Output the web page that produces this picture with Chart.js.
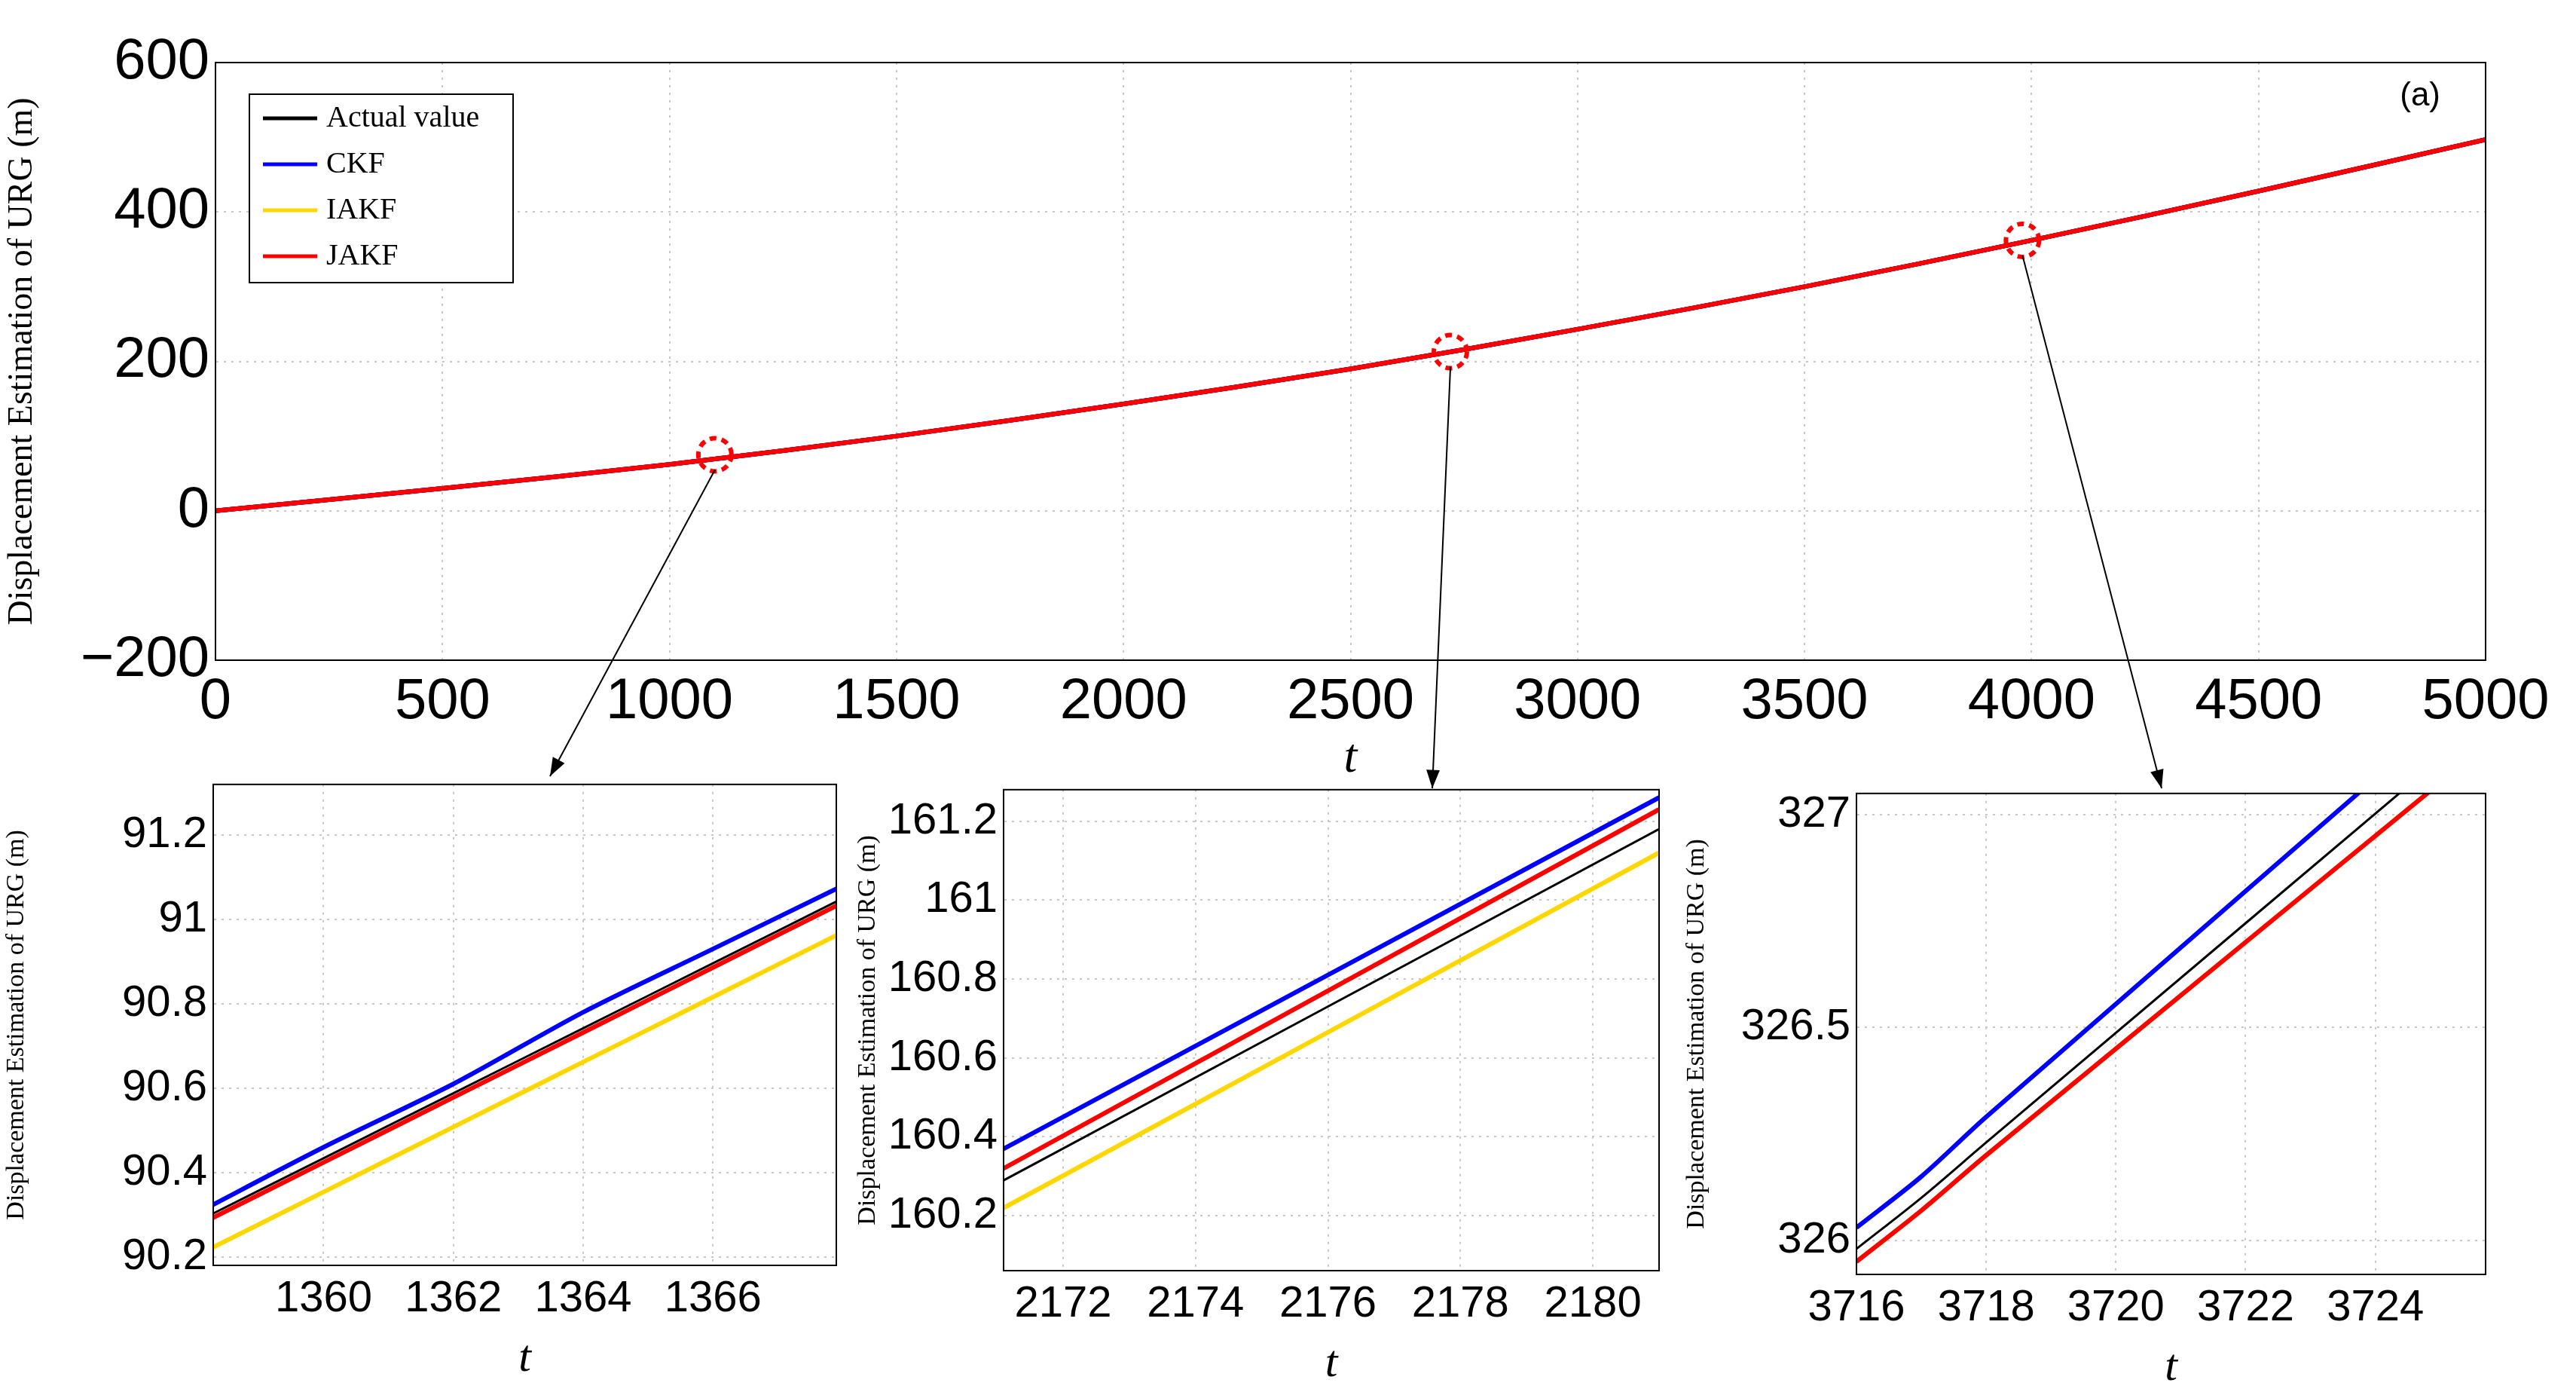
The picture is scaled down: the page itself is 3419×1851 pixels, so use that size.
<!DOCTYPE html>
<html><head><meta charset="utf-8">
<script src="https://cdn.jsdelivr.net/npm/chart.js@4/dist/chart.umd.min.js"></script>
<style>
body{margin:0;background:#fff;width:3419px;height:1851px;overflow:hidden;position:relative}
canvas{position:absolute}
</style></head><body>
<canvas id="main" width="3419" height="1046" style="left:0;top:0"></canvas>
<canvas id="in1" width="1130" height="841" style="left:0;top:998px"></canvas>
<canvas id="in2" width="1100" height="841" style="left:1130px;top:1005px"></canvas>
<canvas id="in3" width="1189" height="841" style="left:2230px;top:1010px"></canvas>
<canvas id="over" width="3419" height="1851" style="left:0;top:0;pointer-events:none"></canvas>
<script>
Chart.defaults.devicePixelRatio = 1;
Chart.defaults.animation = false;

const seriesNames = ['Actual value', 'CKF', 'IAKF', 'JAKF'];
const seriesColors = ['#000000', '#0000ff', '#ffd700', '#ff0000'];

// main plot
const mainT = [0, 500, 1000, 1500, 2000, 2500, 3000, 3500, 4000, 4500, 5000];
const mainY = [0, 30, 62, 100, 143, 190, 243, 300, 362, 428, 497];
const zoomT = [1100, 2720, 3980];
const zoomY = [75, 213, 362];

// inset 1
const in1T = [1358, 1360, 1362, 1364, 1366, 1368];
const in1Actual = [90.28, 90.434, 90.588, 90.742, 90.896, 91.05];
const in1CKF = [90.30, 90.46, 90.61, 90.78, 90.93, 91.08];
const in1IAKF = [90.20, 90.354, 90.508, 90.662, 90.816, 90.97];
const in1JAKF = [90.27, 90.424, 90.578, 90.732, 90.886, 91.04];
// inset 2
const in2T = [2171, 2181];
const in2Actual = [160.28, 161.18];
const in2CKF = [160.36, 161.26];
const in2IAKF = [160.21, 161.12];
const in2JAKF = [160.31, 161.23];
// inset 3
const in3T = [3716, 3717, 3718, 3726];
const in3Actual = [325.98, 326.1, 326.23, 327.26];
const in3CKF = [326.03, 326.15, 326.29, 327.35];
const in3IAKF = [325.95, 326.07, 326.2, 327.2];
const in3JAKF = [325.95, 326.07, 326.2, 327.2];

const sans = 'Liberation Sans, Arial, sans-serif';
const serif = 'Liberation Serif, Times New Roman, serif';

function pts(xs, ys) { return xs.map((x, i) => ({x: x, y: ys[i]})); }

function makeSets(xs, lists, widths) {
  // first dataset is drawn on top
  const order = [3, 1, 0, 2];
  return order.map(k => ({
    label: seriesNames[k], data: pts(xs, lists[k]), borderColor: seriesColors[k],
    borderWidth: widths[k], pointRadius: 0, tension: 0.3, fill: false
  }));
}

const grid = {color: '#c8c8c8', lineWidth: 2, drawTicks: false};

function axes(xmin, xmax, xstep, ymin, ymax, ystep, ywidth, xheight, tickSize, titleSize, tSize, dec) {
  return {
    x: {type: 'linear', min: xmin, max: xmax,
      afterBuildTicks: a => { a.ticks = []; for (let v = Math.ceil(xmin / xstep) * xstep; v <= xmax + 1e-9; v += xstep) a.ticks.push({value: v}); },
      afterFit: a => { a.height = xheight; },
      grid: grid, border: {color: '#000', width: 2, dash: [3, 7]},
      ticks: {color: '#000', font: {family: sans, size: tickSize}, padding: 10, maxRotation: 0, autoSkip: false,
        callback: v => String(v)},
      title: {display: true, text: 't', color: '#000', font: {family: serif, size: tSize, style: 'italic'}, padding: 0}},
    y: {min: ymin, max: ymax,
      afterBuildTicks: a => { a.ticks = []; for (let v = Math.ceil(ymin / ystep - 1e-9) * ystep; v <= ymax + 1e-9; v += ystep) a.ticks.push({value: +v.toFixed(4)}); },
      afterFit: a => { a.width = ywidth; },
      grid: grid, border: {color: '#000', width: 2, dash: [3, 7]},
      ticks: {color: '#000', font: {family: sans, size: tickSize}, padding: 8,
        callback: v => dec ? +v.toFixed(2) + '' : (v < 0 ? '\u2212' + (-v) : String(v))},
      title: {display: true, text: 'Displacement Estimation of URG (m)', color: '#000', font: {family: serif, size: titleSize}, padding: 2}}
  };
}

const frame = {
  id: 'frame',
  afterDraw(c) {
    const a = c.chartArea, g = c.ctx;
    g.save(); g.strokeStyle = '#000'; g.lineWidth = 2;
    g.strokeRect(a.left, a.top, a.right - a.left, a.bottom - a.top);
    g.restore();
  }
};

const mainDeco = {
  id: 'mainDeco',
  afterDraw(c) {
    const a = c.chartArea, g = c.ctx;
    g.save();
    const lx = a.left + 45, ly = a.top + 42, lw = 350, lh = 250;
    g.fillStyle = '#fff'; g.fillRect(lx, ly, lw, lh);
    g.strokeStyle = '#000'; g.lineWidth = 2; g.strokeRect(lx, ly, lw, lh);
    g.font = '40px ' + serif; g.textBaseline = 'middle';
    seriesNames.forEach((n, i) => {
      const yy = ly + 32 + i * 61;
      g.strokeStyle = seriesColors[i]; g.lineWidth = 5;
      g.beginPath(); g.moveTo(lx + 18, yy); g.lineTo(lx + 90, yy); g.stroke();
      g.fillStyle = '#000'; g.fillText(n, lx + 102, yy);
    });
    g.font = '44px ' + sans; g.textAlign = 'right';
    g.fillText('(a)', a.right - 60, a.top + 45);
    g.strokeStyle = '#ff0000'; g.lineWidth = 6; g.setLineDash([9, 7]);
    zoomT.forEach((t, i) => {
      g.beginPath();
      g.arc(c.scales.x.getPixelForValue(t), c.scales.y.getPixelForValue(zoomY[i]), 22, 0, Math.PI * 2);
      g.stroke();
    });
    g.restore();
  }
};

const mainChart = new Chart(document.getElementById('main'), {
  type: 'line',
  data: {datasets: makeSets(mainT, [mainY, mainY, mainY, mainY], [6, 6, 6, 6])},
  options: {responsive: false, plugins: {legend: {display: false}, tooltip: {enabled: false}},
    layout: {padding: {top: 83, right: 120, left: 0, bottom: 0}},
    scales: axes(0, 5000, 500, -200, 600, 200, 286, 170, 76, 46, 64, false)},
  plugins: [frame, mainDeco]
});

function inset(id, xs, lists, xmin, xmax, ymin, ymax, ystep, ywidth, rpad) {
  return new Chart(document.getElementById(id), {
    type: 'line',
    data: {datasets: makeSets(xs, lists, [3, 6, 6, 6])},
    options: {responsive: false, plugins: {legend: {display: false}, tooltip: {enabled: false}},
      layout: {padding: {top: 10, right: rpad, left: 0, bottom: 0}},
      scales: axes(xmin, xmax, 2, ymin, ymax, ystep, ywidth, 160, 58, 34, 60, true)},
    plugins: [frame]
  });
}
inset('in1', in1T, [in1Actual, in1CKF, in1IAKF, in1JAKF], 1358.3, 1367.9, 90.18, 91.32, 0.2, 283, 20);
inset('in2', in2T, [in2Actual, in2CKF, in2IAKF, in2JAKF], 2171.1, 2181, 160.06, 161.28, 0.2, 202, 28);
inset('in3', in3T, [in3Actual, in3CKF, in3IAKF, in3JAKF], 3716, 3725.7, 325.92, 327.05, 0.5, 234, 120);

const og = document.getElementById('over').getContext('2d');
const tips = [[730, 1030], [1901, 1046], [2869, 1046]];
zoomT.forEach((t, i) => {
  const x0 = mainChart.scales.x.getPixelForValue(t), y0 = mainChart.scales.y.getPixelForValue(zoomY[i]) + 20;
  const [x1, y1] = tips[i];
  og.strokeStyle = '#000'; og.fillStyle = '#000'; og.lineWidth = 2;
  og.beginPath(); og.moveTo(x0, y0); og.lineTo(x1, y1); og.stroke();
  const ang = Math.atan2(y1 - y0, x1 - x0), L = 26, W = 0.35;
  og.beginPath(); og.moveTo(x1, y1);
  og.lineTo(x1 - L * Math.cos(ang - W), y1 - L * Math.sin(ang - W));
  og.lineTo(x1 - L * Math.cos(ang + W), y1 - L * Math.sin(ang + W));
  og.closePath(); og.fill();
});
</script>
</body></html>
